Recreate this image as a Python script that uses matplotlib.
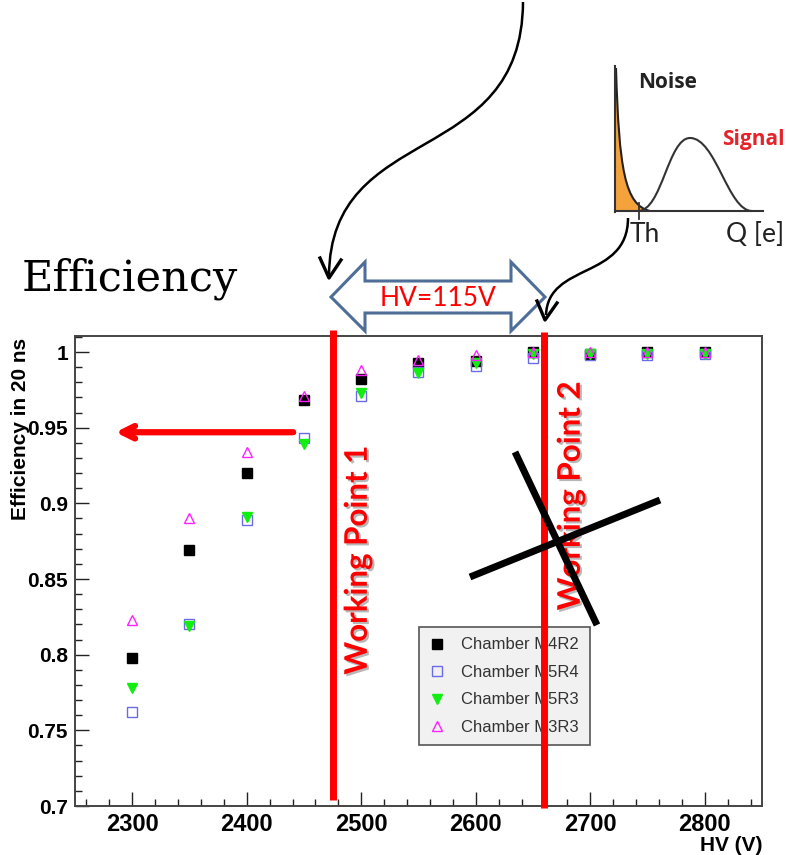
"""
efficiency vs HV for four muon chambers, with the working point annotations
"""
import matplotlib.pyplot as plt
import matplotlib.patheffects as pe
from matplotlib.path import Path
from matplotlib.patches import PathPatch, Polygon
from matplotlib.ticker import MultipleLocator

hv = [2300, 2350, 2400, 2450, 2500, 2550, 2600, 2650, 2700, 2750, 2800]
m4r2 = [0.798, 0.869, 0.920, 0.968, 0.982, 0.993, 0.994, 1.000, 0.999, 1.000, 1.000]
m5r4 = [0.762, 0.820, 0.889, 0.943, 0.971, 0.987, 0.991, 0.996, 0.998, 0.998, 0.999]
m5r3 = [0.778, 0.819, 0.891, 0.939, 0.973, 0.986, 0.993, 0.999, 0.999, 0.999, 0.999]
m3r3 = [0.823, 0.890, 0.934, 0.971, 0.988, 0.995, 0.998, 1.000, 1.000, 1.000, 1.000]
labels = ['Chamber M4R2', 'Chamber M5R4', 'Chamber M5R3', 'Chamber M3R3']

wp1 = 2475
wp2 = 2660
eff_target = 0.947

NARROW = ['Liberation Sans Narrow', 'Liberation Sans', 'DejaVu Sans']
CAL = ['Lato', 'DejaVu Sans']

fig = plt.figure(figsize=(7.86, 8.55), dpi=100)
ax = fig.add_axes([75 / 786, 1 - 806 / 855, 687 / 786, 470 / 855])

ax.plot(hv, m4r2, ls='none', marker='s', ms=7, mfc='black', mec='black', label=labels[0])
ax.plot(hv, m5r4, ls='none', marker='s', ms=7, mfc='none', mec='#6b6be8', mew=1.0, label=labels[1])
ax.plot(hv, m5r3, ls='none', marker='v', ms=7, mfc='#11ee11', mec='#11ee11', label=labels[2])
ax.plot(hv, m3r3, ls='none', marker='^', ms=7, mfc='none', mec='#ff22ff', mew=1.0, label=labels[3])

ax.set_xlim(2250, 2850)
ax.set_ylim(0.7, 1.0106)
ax.xaxis.set_major_locator(MultipleLocator(100))
ax.xaxis.set_minor_locator(MultipleLocator(20))
ax.yaxis.set_major_locator(MultipleLocator(0.05))
ax.yaxis.set_minor_locator(MultipleLocator(0.01))
ax.yaxis.set_major_formatter(lambda v, p: '{:g}'.format(round(v, 2)))
ax.tick_params(which='both', direction='in', top=False, right=False, color='#222')
ax.tick_params(which='major', length=10, width=1)
ax.tick_params(which='minor', length=5, width=1)
ax.tick_params(axis='x', pad=5)
ax.tick_params(axis='y', pad=5)
for t in ax.get_xticklabels():
    t.set_family(NARROW)
    t.set_fontweight('bold')
    t.set_fontsize(17)
for t in ax.get_yticklabels():
    t.set_family(NARROW)
    t.set_fontweight('bold')
    t.set_fontsize(15)
for s in ax.spines.values():
    s.set_color('#444')
    s.set_linewidth(1.4)

ax.set_xlabel('HV (V)', family=NARROW, fontweight='bold', fontsize=15, ha='right', va='bottom')
ax.xaxis.set_label_coords(1.0, -0.104)
ax.set_ylabel('Efficiency in 20 ns', family=NARROW, fontweight='bold', fontsize=15, ha='right')
ax.yaxis.set_label_coords(-0.066, 0.995)

leg = ax.legend(loc='lower left', bbox_to_anchor=(0.5007, 0.130, 0.249, 0.2466), mode='expand',
                borderaxespad=0, fancybox=False, framealpha=1, facecolor='#f1f1f1',
                edgecolor='#555', prop={'family': 'Liberation Sans', 'size': 12},
                labelspacing=0.75, handlelength=1.0, handletextpad=0.9, borderpad=0.6,
                labelcolor='#333')
leg.get_frame().set_linewidth(1.2)
leg.set_zorder(5)

# working point lines
ax.plot([wp1, wp1], [0.704, 1.0145], color='red', lw=5, clip_on=False, zorder=6,
        solid_capstyle='butt')
ax.plot([wp2, wp2], [0.6985, 1.013], color='red', lw=5, clip_on=False, zorder=6,
        solid_capstyle='butt')
shadow = [pe.SimplePatchShadow(offset=(1.5, -1.5), shadow_rgbFace='#888', alpha=0.6), pe.Normal()]
ax.text(2497, 0.8625, 'Working Point 1', rotation=90, ha='center', va='center', color='red',
        family=CAL, fontweight='bold', fontsize=22.5, zorder=7, path_effects=shadow)
ax.text(2683, 0.905, 'Working Point 2', rotation=90, ha='center', va='center', color='red',
        family=CAL, fontweight='bold', fontsize=22.5, zorder=7, path_effects=shadow)

ax.annotate('', xy=(2283, eff_target), xytext=(2443, eff_target),
            arrowprops=dict(arrowstyle='->,head_length=0.9,head_width=0.45', color='red', lw=4.5))

# overlay in pixel coordinates for the sketch parts
ov = fig.add_axes([0, 0, 1, 1])
ov.set_xlim(0, 786)
ov.set_ylim(855, 0)
ov.axis('off')
ov.set_zorder(10)
ov.patch.set_alpha(0)

ov.text(22, 290, 'Efficiency', family='DejaVu Serif', fontsize=31, ha='left', va='baseline')

# double arrow
dbl = [(331, 297), (365, 262), (365, 281), (511, 281), (511, 262), (545, 297),
       (511, 331), (511, 313), (365, 313), (365, 331)]
ov.add_patch(Polygon(dbl, closed=True, fc='white', ec='#4f6e97', lw=2.2, joinstyle='miter'))
ov.text(438, 298, 'HV=115V', color='red', family=CAL, fontsize=19, ha='center', va='center')

# curved arrows
c1 = Path([(523, 2), (522, 170), (330, 120), (329, 276)],
          [Path.MOVETO, Path.CURVE4, Path.CURVE4, Path.CURVE4])
ov.add_patch(PathPatch(c1, fc='none', ec='black', lw=1.8))
ov.plot([320, 329, 341], [258, 278, 260], color='black', lw=2.4)
c2 = Path([(628, 218), (628, 280), (548, 262), (546, 315)],
          [Path.MOVETO, Path.CURVE4, Path.CURVE4, Path.CURVE4])
ov.add_patch(PathPatch(c2, fc='none', ec='black', lw=1.8))
ov.plot([537, 545, 557], [301, 320, 303], color='black', lw=2.4)

# noise / signal sketch
noise_fill = Path([(615, 211), (615, 68), (616, 68), (619, 170), (625, 205), (650, 211), (615, 211)],
                  [Path.MOVETO, Path.LINETO, Path.LINETO, Path.CURVE4, Path.CURVE4, Path.CURVE4,
                   Path.CLOSEPOLY])
ov.add_patch(PathPatch(noise_fill, fc='#f4a23c', ec='none'))
noise = Path([(616, 68), (619, 170), (625, 205), (650, 211)],
             [Path.MOVETO, Path.CURVE4, Path.CURVE4, Path.CURVE4])
ov.add_patch(PathPatch(noise, fc='none', ec='#222', lw=1.5))
signal = Path([(638, 211), (662, 211), (668, 138), (690, 138), (716, 138), (728, 211), (752, 211)],
              [Path.MOVETO, Path.CURVE4, Path.CURVE4, Path.CURVE4, Path.CURVE4, Path.CURVE4,
               Path.CURVE4])
ov.add_patch(PathPatch(signal, fc='none', ec='#333', lw=1.5))
ov.plot([615, 615], [66, 212], color='#333', lw=1.5)
ov.plot([615, 763], [211, 211], color='#333', lw=1.5)
ov.plot([639, 639], [203, 219], color='#333', lw=1.3)
ov.text(638, 82, 'Noise', family=['Open Sans', 'DejaVu Sans'], fontweight='bold', fontsize=15,
        color='#222', ha='left', va='center')
ov.text(722, 140, 'Signal', family=['Open Sans', 'DejaVu Sans'], fontweight='bold', fontsize=15,
        color='#e5232b', ha='left', va='center')
ov.text(630, 234, 'Th', family=CAL, fontsize=19, color='#222', ha='left', va='center')
ov.text(726, 234, 'Q [e]', family=CAL, fontsize=19, color='#222', ha='left', va='center')

# crossed out
ov.plot([515, 597], [452, 625], color='black', lw=5, solid_capstyle='butt')
ov.plot([470, 660], [577, 500], color='black', lw=5, solid_capstyle='butt')

plt.savefig('out.png', dpi=100)
